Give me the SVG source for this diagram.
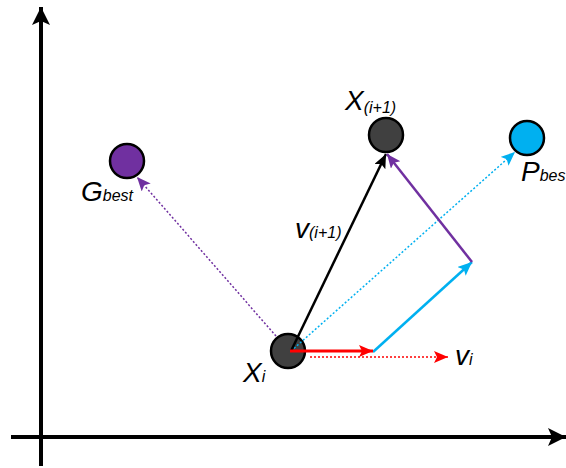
<svg xmlns="http://www.w3.org/2000/svg" width="566" height="468" viewBox="0 0 566 468">
<defs>
<style>
.lbl{font-family:"Liberation Sans",Arial,sans-serif;font-style:italic;fill:#000}
.big{font-size:28px}
.sub{font-size:16px}
.node{stroke:#000;stroke-width:2.5}
</style>
<marker id="axh" markerUnits="userSpaceOnUse" markerWidth="20" markerHeight="20" refX="18" refY="9" orient="auto"><path d="M0,0 L18,9 L0,18 L4,9 Z" fill="#000"/></marker>
<marker id="hk" markerUnits="userSpaceOnUse" markerWidth="16" markerHeight="14" refX="14" refY="6" orient="auto"><path d="M0,0 L14,6 L0,12 L3,6 Z" fill="#000"/></marker>
<marker id="hp" markerUnits="userSpaceOnUse" markerWidth="16" markerHeight="14" refX="14" refY="6" orient="auto"><path d="M0,0 L14,6 L0,12 L3,6 Z" fill="#7030A0"/></marker>
<marker id="hc" markerUnits="userSpaceOnUse" markerWidth="16" markerHeight="14" refX="14" refY="6" orient="auto"><path d="M0,0 L14,6 L0,12 L3,6 Z" fill="#00B0F0"/></marker>
<marker id="hr" markerUnits="userSpaceOnUse" markerWidth="16" markerHeight="14" refX="14" refY="6" orient="auto"><path d="M0,0 L14,6 L0,12 L3,6 Z" fill="#FF0000"/></marker>
</defs>
<g id="axes" stroke="#000" stroke-width="4" fill="none">
<line x1="41" y1="466" x2="41" y2="7" marker-end="url(#axh)"/>
<line x1="11" y1="437" x2="566" y2="437" marker-end="url(#axh)"/>
</g>
<g id="gbest">
<circle class="node" cx="127" cy="161" r="17" fill="#7030A0"/>
<text class="lbl" x="81" y="201"><tspan class="big">G</tspan><tspan class="sub">best</tspan></text>
</g>
<g id="xnext">
<circle class="node" cx="386" cy="135" r="17" fill="#404040"/>
<text class="lbl" x="345" y="110"><tspan class="big">X</tspan><tspan class="sub" dy="3">(i+1)</tspan></text>
</g>
<g id="pbest">
<circle class="node" cx="527" cy="138" r="17" fill="#00B0F0"/>
<text class="lbl" x="521" y="181"><tspan class="big">P</tspan><tspan class="sub">bes</tspan></text>
</g>
<g id="xi">
<circle class="node" cx="288" cy="351" r="17" fill="#404040"/>
<text class="lbl" x="243" y="382"><tspan class="big">X</tspan><tspan class="sub">i</tspan></text>
</g>
<g id="connectors" fill="none">
<line x1="276" y1="336" x2="137" y2="177" stroke="#7030A0" stroke-width="1.5" stroke-dasharray="2,2" marker-end="url(#hp)"/>
<line x1="291" y1="351" x2="515" y2="152" stroke="#00B0F0" stroke-width="1.5" stroke-dasharray="2,2" marker-end="url(#hc)"/>
<line x1="291" y1="351" x2="386" y2="154" stroke="#000" stroke-width="2.5" marker-end="url(#hk)"/>
<line x1="373" y1="352" x2="472" y2="262" stroke="#00B0F0" stroke-width="2.5" marker-end="url(#hc)"/>
<line x1="472" y1="262" x2="387" y2="154" stroke="#7030A0" stroke-width="2.5" marker-end="url(#hp)"/>
<line x1="290" y1="351" x2="373" y2="351" stroke="#FF0000" stroke-width="3" marker-end="url(#hr)"/>
<line x1="310" y1="357" x2="448" y2="357" stroke="#FF0000" stroke-width="1.5" stroke-dasharray="2,2" marker-end="url(#hr)"/>
</g>
<g id="labels">
<text class="lbl" x="295" y="238"><tspan class="big">v</tspan><tspan class="sub">(i+1)</tspan></text>
<text class="lbl" x="455" y="365"><tspan class="big">v</tspan><tspan class="sub">i</tspan></text>
</g>
</svg>
